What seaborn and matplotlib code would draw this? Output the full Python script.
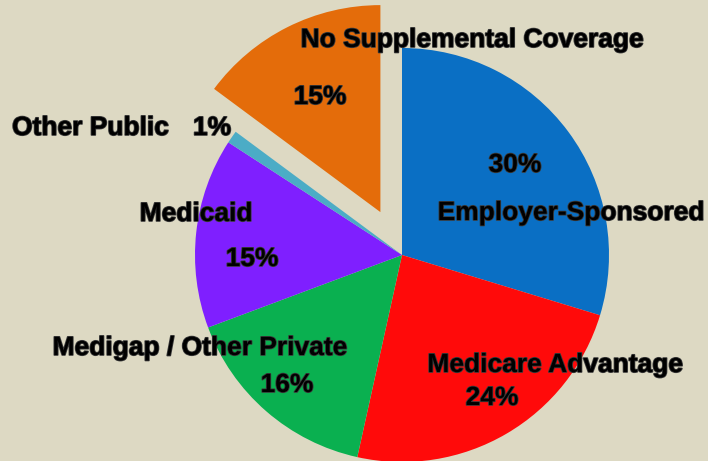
import matplotlib
matplotlib.use("Agg")
import matplotlib.pyplot as plt
import matplotlib.patheffects as pe
import seaborn as sns

categories = ["Employer-Sponsored", "Medicare Advantage", "Medigap / Other Private",
              "Medicaid", "Other Public", "No Supplemental Coverage"]
values = [30, 24, 16, 15, 1, 15]
pct_labels = ["30%", "24%", "16%", "15%", "1%", "15%"]
colors = ["#0a6fc4", "#ff0a0a", "#0ab050", "#7f1fff", "#4bacc6", "#e46c0a"]
explode = [0, 0, 0, 0, 0, 0.232]

BG = "#ddd9c3"
sns.set_style("white")
plt.rcParams["font.family"] = ["Liberation Sans", "DejaVu Sans"]

W, H = 708, 461
fig = plt.figure(figsize=(W / 100, H / 100), dpi=100, facecolor=BG)
ax = fig.add_axes([0, 0, 1, 1])
ax.set_facecolor(BG)

wedges, _ = ax.pie(values, colors=colors, explode=explode, startangle=90,
                   counterclock=False, radius=1,
                   wedgeprops=dict(linewidth=0))

# pixel geometry of the pie
cx, cy, R = 402, 255, 207
ax.set_xlim(-cx / R, (W - cx) / R)
ax.set_ylim(-(H - cy) / R, cy / R)
ax.set_aspect("auto")
ax.axis("off")

def P(px, py):
    return (px - cx) / R, (cy - py) / R

fx = [pe.withStroke(linewidth=1.2, foreground="#3a3a3a")]
kw = dict(fontsize=19, fontweight="bold", color="black", va="center",
          path_effects=fx)

label_pos = {
    "Employer-Sponsored": ((571, 213), "center"),
    "Medicare Advantage": ((555, 365), "center"),
    "Medigap / Other Private": ((200, 348), "center"),
    "Medicaid": ((196, 214), "center"),
    "Other Public": ((12, 128), "left"),
    "No Supplemental Coverage": ((472, 40), "center"),
}
pct_pos = [(515, 165), (492, 398), (287, 385), (252, 259), (212, 128), (320, 97)]

for cat, pl, pp in zip(categories, pct_labels, pct_pos):
    (px, py), ha = label_pos[cat]
    ax.text(*P(px, py), cat, ha=ha, **kw)
    ax.text(*P(*pp), pl, ha="center", **kw)

fig.savefig("out.png", dpi=100, facecolor=BG)
